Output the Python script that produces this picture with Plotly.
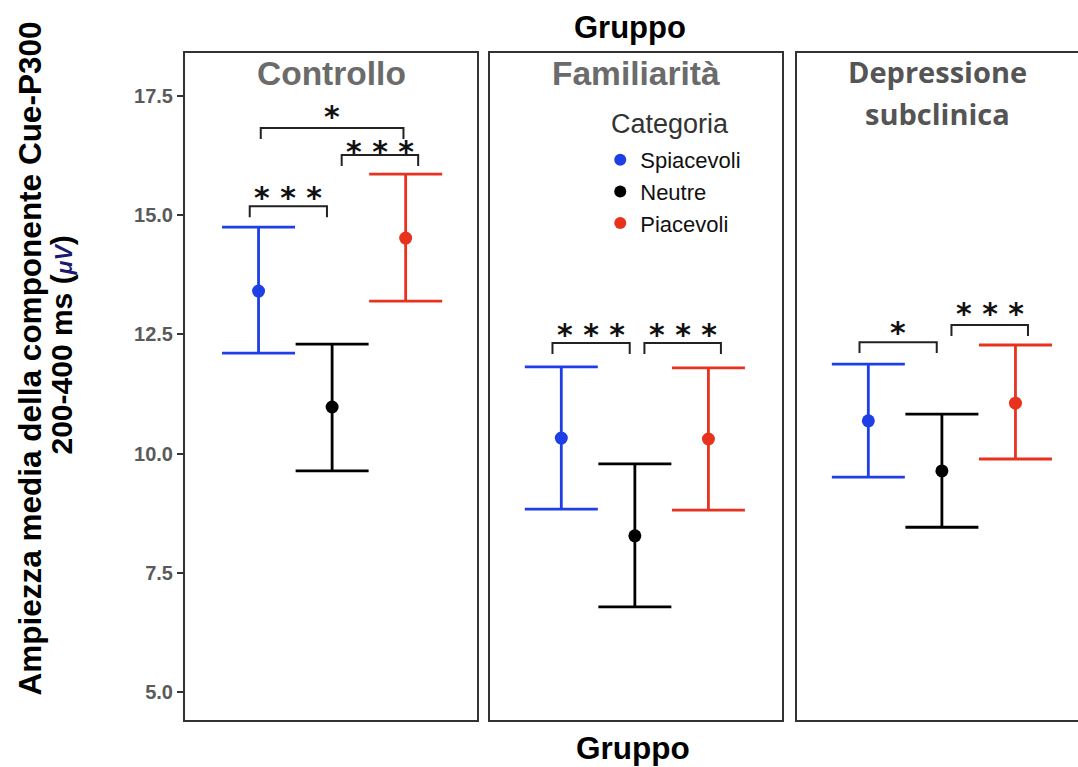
import plotly.graph_objects as go

# ---------------- data ----------------
groups = ["Controllo", "Familiarità", "Depressione<br>subclinica"]
categories = ["Spiacevoli", "Neutre", "Piacevoli"]

mean_spiacevoli = [13.41, 10.33, 10.69]
upper_spiacevoli = [14.75, 11.82, 11.88]
lower_spiacevoli = [12.11, 8.84, 9.51]

mean_neutre = [10.98, 8.28, 9.64]
upper_neutre = [12.30, 9.79, 10.83]
lower_neutre = [9.64, 6.79, 8.46]

mean_piacevoli = [14.52, 10.31, 11.06]
upper_piacevoli = [15.86, 11.80, 12.28]
lower_piacevoli = [13.20, 8.82, 9.89]

y_ticks = [5.0, 7.5, 10.0, 12.5, 15.0, 17.5]

# significance brackets
sig_group = [0, 0, 0, 1, 1, 2, 2]
sig_left = ["Spiacevoli", "Neutre", "Spiacevoli", "Spiacevoli", "Neutre", "Spiacevoli", "Neutre"]
sig_right = ["Neutre", "Piacevoli", "Piacevoli", "Neutre", "Piacevoli", "Neutre", "Piacevoli"]
sig_height = [15.19, 16.26, 16.83, 12.32, 12.32, 12.34, 12.70]
sig_label = ["***", "***", "*", "***", "***", "*", "***"]

# ---------------- style ----------------
colors = {"Spiacevoli": "#1f3fe6", "Neutre": "#000000", "Piacevoli": "#e8321e"}
means = {"Spiacevoli": mean_spiacevoli, "Neutre": mean_neutre, "Piacevoli": mean_piacevoli}
uppers = {"Spiacevoli": upper_spiacevoli, "Neutre": upper_neutre, "Piacevoli": upper_piacevoli}
lowers = {"Spiacevoli": lower_spiacevoli, "Neutre": lower_neutre, "Piacevoli": lower_piacevoli}

bracket_inset = {
    ("Spiacevoli", "Neutre"): (-0.12, -0.07),
    ("Neutre", "Piacevoli"): (0.13, 0.17),
    ("Spiacevoli", "Piacevoli"): (0.03, -0.03),
}
tip_drop = 0.23
text_lift = [12, 7, 14, 12, 12, 13, 14]

domains = [[0.0, 0.327], [0.3415, 0.6685], [0.6853, 1.0]]
x_ranges = [[-2.0, 1.97], [-1.97, 2.0], [-1.97, 1.85]]
y_range = [4.42, 18.40]
line_col = "#333333"

fig = go.Figure()


def pos(cat):
    return categories.index(cat) - 1


for g in range(len(groups)):
    ax = "" if g == 0 else str(g + 1)
    for cat in categories:
        m = means[cat][g]
        fig.add_trace(go.Scatter(
            x=[pos(cat)], y=[m],
            xaxis="x" + ax, yaxis="y" + ax,
            mode="markers",
            name=cat, showlegend=(g == 0),
            marker=dict(color=colors[cat], size=13),
            error_y=dict(type="data", symmetric=False,
                         array=[uppers[cat][g] - m],
                         arrayminus=[m - lowers[cat][g]],
                         color=colors[cat], thickness=2.8, width=36.5),
            hoverinfo="skip",
        ))

layout = dict(
    width=1078, height=767,
    margin=dict(l=185, r=0, t=53, b=47),
    paper_bgcolor="white", plot_bgcolor="white",
    font=dict(family="Liberation Sans, Arial, sans-serif", color="#000"),
    legend=dict(
        font=dict(size=22, color="#111"),
        x=0.465, y=0.871, xanchor="left", yanchor="top",
        bgcolor="rgba(0,0,0,0)", itemsizing="constant",
        tracegroupgap=0,
    ),
)

for g in range(len(groups)):
    ax = "" if g == 0 else str(g + 1)
    layout["xaxis" + ax] = dict(
        domain=domains[g], range=x_ranges[g], anchor="y" + ax,
        showgrid=False, zeroline=False, showticklabels=False, ticks="",
        showline=True, mirror=True, linecolor=line_col, linewidth=2,
        fixedrange=True,
    )
    ydict = dict(
        range=y_range, anchor="x" + ax,
        showgrid=False, zeroline=False,
        showline=True, mirror=(g < 2), linecolor=line_col, linewidth=2,
        tickvals=y_ticks, ticktext=[f"{v:.1f}" for v in y_ticks],
        fixedrange=True,
    )
    if g == 0:
        ydict.update(ticks="outside", ticklen=6, tickwidth=1.5, tickcolor=line_col,
                     tickfont=dict(size=20, color="#5a5a5a",
                                   family="Liberation Sans, Arial", weight="bold"))
    else:
        ydict.update(showticklabels=False, ticks="")
    layout["yaxis" + ax] = ydict

fig.update_layout(**layout)

# legend title
fig.add_annotation(text="Categoria", xref="paper", yref="paper",
                   x=0.4748, y=(720 - 124) / 667, xanchor="left", yanchor="middle",
                   showarrow=False, font=dict(size=27, color="#333"))

# panel titles
title_fonts = [
    dict(size=33.5, color="#6b6b6b", family="Liberation Sans, Arial", weight="bold"),
    dict(size=33.5, color="#6b6b6b", family="Liberation Sans, Arial", weight="bold"),
    dict(size=29, color="#555555", family="Open Sans, Noto Sans, sans-serif", weight="bold"),
]
title_shift = [-20, -20, -18]
title_line_gap = 42
for g in range(len(groups)):
    ax = "" if g == 0 else str(g + 1)
    for k, line in enumerate(groups[g].split("<br>")):
        fig.add_annotation(
            text=line, xref="x" + ax + " domain", yref="paper",
            x=0.5, y=1.0, xanchor="center", yanchor="middle",
            yshift=title_shift[g] - k * title_line_gap,
            showarrow=False, font=title_fonts[g],
        )

# significance brackets
for i in range(len(sig_group)):
    g = sig_group[i]
    ax = "" if g == 0 else str(g + 1)
    d0, d1 = bracket_inset[(sig_left[i], sig_right[i])]
    x0 = pos(sig_left[i]) + d0
    x1 = pos(sig_right[i]) + d1
    h = sig_height[i]
    fig.add_shape(
        type="path", xref="x" + ax, yref="y" + ax,
        path=f"M {x0},{h - tip_drop} L {x0},{h} L {x1},{h} L {x1},{h - tip_drop}",
        line=dict(color="#222", width=2),
    )
    fig.add_annotation(
        text=" ".join(sig_label[i]), xref="x" + ax, yref="y" + ax,
        x=(x0 + x1) / 2, y=h, xanchor="center", yanchor="middle",
        yshift=text_lift[i] - 3, showarrow=False,
        font=dict(size=30, family="DejaVu Sans", color="#111", weight="bold"),
    )

# overall titles
fig.add_annotation(text="Gruppo", xref="paper", yref="paper", x=0.498, y=1.0,
                   yshift=26, xanchor="center", yanchor="middle", showarrow=False,
                   font=dict(size=31, weight="bold", family="Liberation Sans, Arial"))
fig.add_annotation(text="Gruppo", xref="paper", yref="paper", x=0.502, y=0.0,
                   yshift=-28, xanchor="center", yanchor="middle", showarrow=False,
                   font=dict(size=31.5, weight="bold", family="Liberation Sans, Arial"))

# y axis title (two lines)
fig.add_annotation(text="Ampiezza media della componente Cue-P300",
                   xref="paper", yref="paper", x=0, xshift=-156, y=0.5, yshift=28,
                   textangle=-90, xanchor="center", yanchor="middle", showarrow=False,
                   font=dict(size=31.5, weight="bold", family="Liberation Sans, Arial"))
fig.add_annotation(text="200-400 ms (<i><span style='color:#1a1a6e;font-size:23px'>μV</span></i>)",
                   xref="paper", yref="paper", x=0, xshift=-124, y=0.5, yshift=41,
                   textangle=-90, xanchor="center", yanchor="middle", showarrow=False,
                   font=dict(size=30, weight="bold", family="Liberation Sans, Arial"))

fig.write_html("out.html")
